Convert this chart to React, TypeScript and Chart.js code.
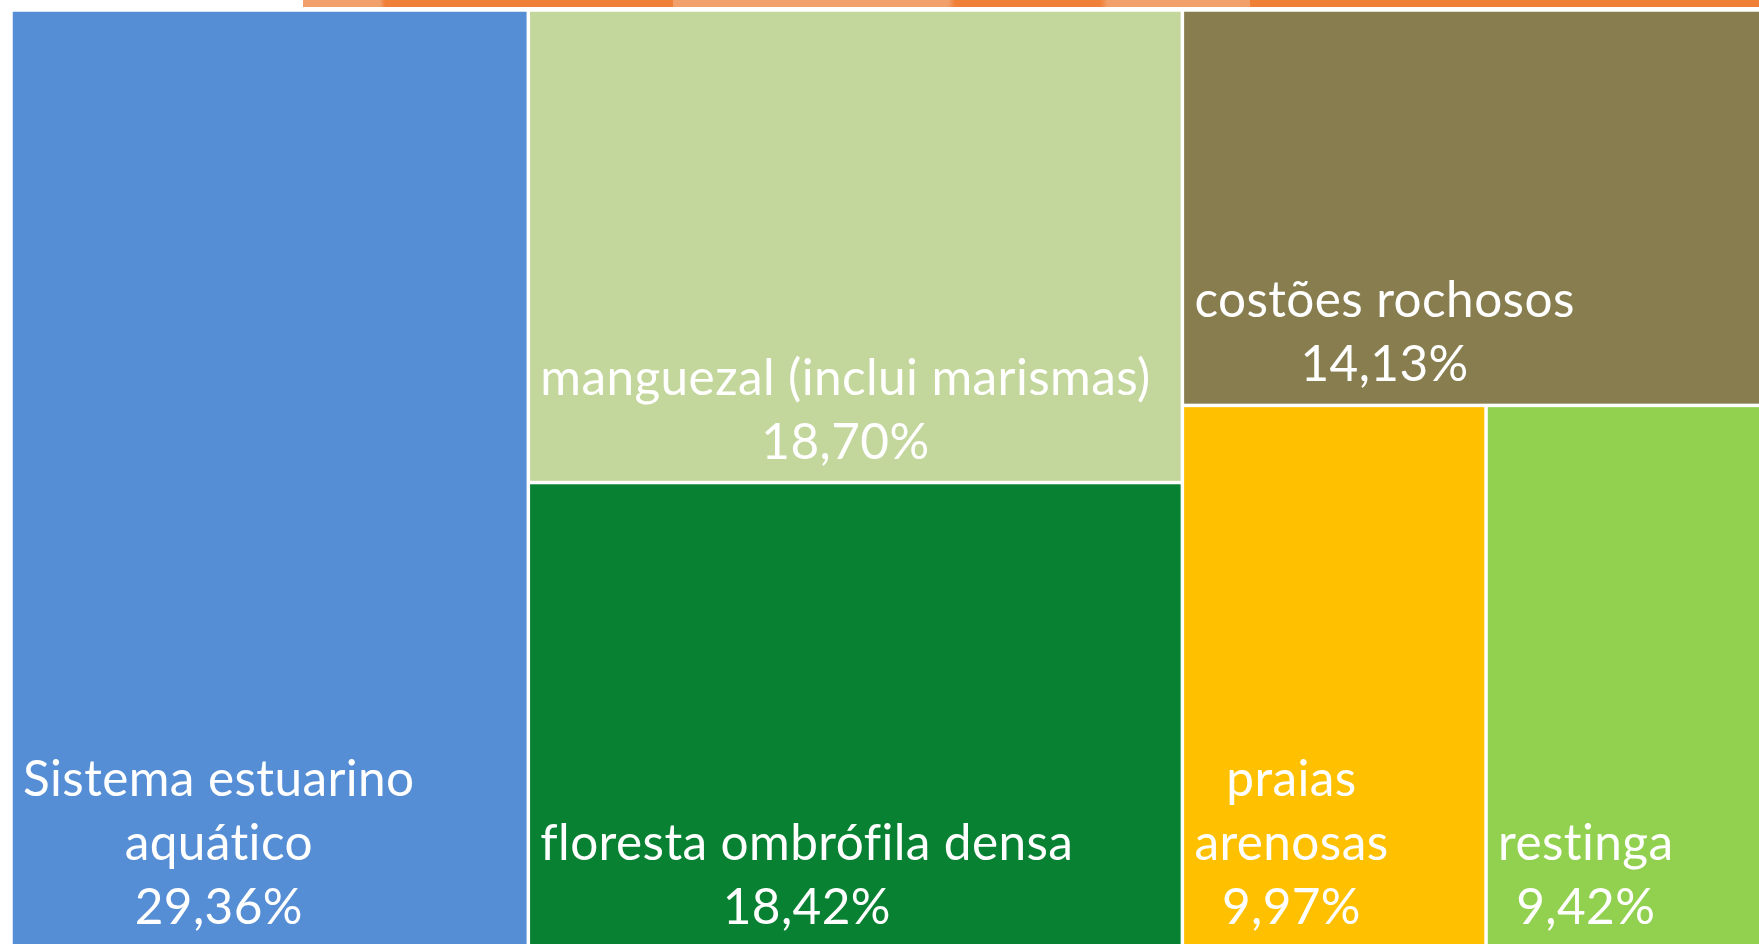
import React, { useEffect, useRef } from "react";
import { Chart, registerables } from "chart.js";

Chart.register(...registerables);

const categories = [
  "Sistema estuarino aquático",
  "manguezal (inclui marismas)",
  "floresta ombrófila densa",
  "costões rochosos",
  "praias arenosas",
  "restinga",
];
const labelLines = [
  ["Sistema estuarino", "aquático"],
  ["manguezal (inclui marismas)"],
  ["floresta ombrófila densa"],
  ["costões rochosos"],
  ["praias", "arenosas"],
  ["restinga"],
];
const values = [29.36, 18.7, 18.42, 14.13, 9.97, 9.42];
const valueLabels = ["29,36%", "18,70%", "18,42%", "14,13%", "9,97%", "9,42%"];
const colors = ["#558ED5", "#C3D69B", "#088232", "#877D4E", "#FFC000", "#92D050"];

type Rect = { x: number; y: number; w: number; h: number };

function worst(row: number[], side: number) {
  const s = row.reduce((a, b) => a + b, 0);
  const mx = Math.max(...row);
  const mn = Math.min(...row);
  return Math.max((side * side * mx) / (s * s), (s * s) / (side * side * mn));
}

// squarified layout in pixel units
function squarify(areas: number[], W: number, H: number): Rect[] {
  const out: Rect[] = [];
  let x = 0, y = 0, w = W, h = H;
  let i = 0;
  while (i < areas.length) {
    const side = Math.min(w, h);
    let row = [areas[i]];
    let j = i + 1;
    while (j < areas.length) {
      const next = [...row, areas[j]];
      if (worst(next, side) <= worst(row, side)) {
        row = next;
        j++;
      } else break;
    }
    const s = row.reduce((a, b) => a + b, 0);
    if (w >= h) {
      const cw = s / h;
      let cy = y;
      for (const a of row) {
        out.push({ x, y: cy, w: cw, h: a / cw });
        cy += a / cw;
      }
      x += cw;
      w -= cw;
    } else {
      const rh = s / w;
      let cx = x;
      for (const a of row) {
        out.push({ x: cx, y, w: a / rh, h: rh });
        cx += a / rh;
      }
      y += rh;
      h -= rh;
    }
    i = j;
  }
  return out;
}

const treemapPlugin = {
  id: "treemapCells",
  afterDatasetsDraw(chart: any) {
    const { ctx, chartArea, scales } = chart;
    const xs = scales.x;
    const ys = scales.y;
    const W = chartArea.right - chartArea.left;
    const H = chartArea.bottom - chartArea.top;
    const total = values.reduce((a, b) => a + b, 0);
    const areas = values.map((v) => (v / total) * W * H);
    const pxRects = squarify(areas, W, H);
    const dataRects = pxRects.map((r) => ({
      x0: (r.x / W) * 100,
      x1: ((r.x + r.w) / W) * 100,
      y0: (r.y / H) * 100,
      y1: ((r.y + r.h) / H) * 100,
    }));
    const gap = 1.75;
    ctx.save();
    dataRects.forEach((d, i) => {
      const left = xs.getPixelForValue(d.x0);
      const right = xs.getPixelForValue(d.x1);
      const top = ys.getPixelForValue(d.y0);
      const bottom = ys.getPixelForValue(d.y1);
      ctx.fillStyle = colors[i];
      ctx.fillRect(left + gap, top + gap, right - left - 2 * gap, bottom - top - 2 * gap);
    });
    const fontSize = 49.5;
    const lineH = 64;
    ctx.font = `${fontSize}px Lato, "Open Sans", sans-serif`;
    try {
      (ctx as any).letterSpacing = "0.4px";
    } catch (e) {}
    ctx.fillStyle = "#FFFFFF";
    ctx.textBaseline = "alphabetic";
    ctx.textAlign = "center";
    dataRects.forEach((d, i) => {
      const left = xs.getPixelForValue(d.x0);
      const bottom = ys.getPixelForValue(d.y1);
      const lines = [...labelLines[i], valueLabels[i]];
      const bw = Math.max(...lines.map((l) => ctx.measureText(l).width));
      const cx = left + 12 + bw / 2;
      const lastBase = bottom - 24;
      lines.forEach((l, k) => {
        ctx.fillText(l, cx, lastBase - (lines.length - 1 - k) * lineH);
      });
    });
    ctx.restore();
  },
};

export default function App() {
  const ref = useRef<HTMLCanvasElement | null>(null);
  useEffect(() => {
    if (!ref.current) return;
    const chart = new Chart(ref.current, {
      type: "scatter",
      data: {
        labels: categories,
        datasets: [{ label: "cells", data: [], pointRadius: 0 }],
      },
      options: {
        animation: false,
        responsive: false,
        devicePixelRatio: 1,
        layout: { padding: { left: 11, top: 10, right: 0, bottom: 0 } },
        plugins: { legend: { display: false }, tooltip: { enabled: false } },
        scales: {
          x: { type: "linear", min: 0, max: 100, display: false },
          y: { type: "linear", min: 0, max: 100, reverse: true, display: false },
        },
      },
      plugins: [treemapPlugin],
    });
    return () => chart.destroy();
  }, []);
  return (
    <div
      style={{
        position: "fixed",
        left: 0,
        top: 0,
        width: 1759,
        height: 944,
        overflow: "hidden",
        background: "#FFFFFF",
      }}
    >
      <div
        style={{
          position: "absolute",
          left: 303,
          top: 0,
          width: 1456,
          height: 7,
          background:
            "linear-gradient(to right, #F1A06C 0px, #F1A06C 77px, #F08038 82px, #F08038 370px, #F1A06C 370px, #F1A06C 645px, #F08038 652px, #F08038 797px, #F1A06C 805px, #F1A06C 947px, #F08038 947px, #F08038 1456px)",
        }}
      />
      <canvas
        ref={ref}
        width={1773}
        height={948}
        style={{ position: "absolute", left: 0, top: 0, width: 1773, height: 948 }}
      />
    </div>
  );
}
